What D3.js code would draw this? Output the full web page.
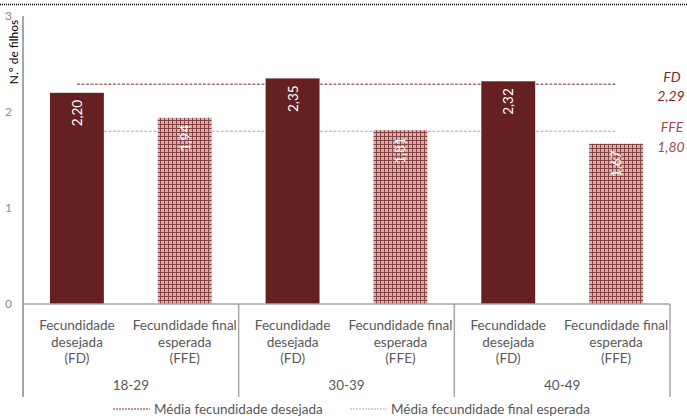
<!DOCTYPE html>
<html>
<head>
<meta charset="utf-8">
<script src="https://cdn.jsdelivr.net/npm/d3@7"></script>
<style>
  body { margin: 0; background: #fff; }
  svg { display: block; font-family: Lato, "Open Sans", sans-serif; }
</style>
</head>
<body>
<svg id="chart" width="687" height="416"></svg>
<script>
const groups = ['18-29', '30-39', '40-49'];
const subCats = ['FD', 'FFE'];
const subLabels = [['Fecundidade', 'desejada', '(FD)'], ['Fecundidade final', 'esperada', '(FFE)']];
const fdValues = [2.20, 2.35, 2.32];
const ffeValues = [1.94, 1.81, 1.67];
const avgFD = 2.29;
const avgFFE = 1.80;
const yTicks = [0, 1, 2, 3];

const svg = d3.select('#chart');
const plotLeft = 23, plotRight = 670, plotTop = 16, plotBottom = 304;

// pattern for FFE bars
const defs = svg.append('defs');
const pat = defs.append('pattern')
  .attr('id', 'hatch').attr('patternUnits', 'userSpaceOnUse')
  .attr('width', 4).attr('height', 4);
pat.append('rect').attr('width', 4).attr('height', 4).attr('fill', '#d2b0b0');
pat.append('rect').attr('x', 0).attr('y', 0).attr('width', 4).attr('height', 1).attr('fill', '#8a4444');
pat.append('rect').attr('x', 0).attr('y', 0).attr('width', 1).attr('height', 4).attr('fill', '#8a4444');

// top dotted rule
svg.append('line')
  .attr('x1', 0).attr('x2', 687).attr('y1', 4.5).attr('y2', 4.5)
  .attr('stroke', '#000').attr('stroke-width', 1.5).attr('stroke-dasharray', '1,1');

const x0 = d3.scaleBand().domain(groups).range([plotLeft, plotRight]);
const x1 = d3.scaleBand().domain(subCats).range([0, x0.bandwidth()]).paddingInner(0.5).paddingOuter(0.25);
const y = d3.scaleLinear().domain([0, 3]).range([plotBottom, plotTop]);

const rows = [];
groups.forEach((g, i) => {
  rows.push({ group: g, sub: 'FD', value: fdValues[i] });
  rows.push({ group: g, sub: 'FFE', value: ffeValues[i] });
});
const cx = d => x0(d.group) + x1(d.sub) + x1.bandwidth() / 2;

// y axis labels
svg.append('g').selectAll('text').data(yTicks).enter().append('text')
  .attr('x', 12).attr('y', d => y(d) + 4)
  .attr('text-anchor', 'end').attr('font-size', 12).attr('fill', '#8c8c8c')
  .text(d => d);

svg.append('text')
  .attr('transform', 'translate(18,52) rotate(-90)')
  .attr('text-anchor', 'middle').attr('font-size', 12).attr('fill', '#000')
  .text('N.º de filhos');

// average lines (behind bars)
const first = rows[0], last = rows[rows.length - 1];
svg.append('line')
  .attr('x1', cx(first)).attr('x2', cx(last)).attr('y1', y(avgFD)).attr('y2', y(avgFD))
  .attr('stroke', '#7a2c2c').attr('stroke-width', 1).attr('stroke-dasharray', '3,1.5');
svg.append('line')
  .attr('x1', cx(first)).attr('x2', cx(last)).attr('y1', y(avgFFE)).attr('y2', y(avgFFE))
  .attr('stroke', '#c4a0a0').attr('stroke-width', 1).attr('stroke-dasharray', '3,1.5');

// bars
svg.append('g').selectAll('rect').data(rows).enter().append('rect')
  .attr('x', d => x0(d.group) + x1(d.sub))
  .attr('y', d => y(d.value))
  .attr('width', x1.bandwidth())
  .attr('height', d => y(0) - y(d.value))
  .attr('fill', d => d.sub === 'FD' ? '#652121' : 'url(#hatch)');

// value labels
svg.append('g').selectAll('text').data(rows).enter().append('text')
  .attr('transform', d => 'translate(' + (cx(d) + 5) + ',' + (y(d.value) + 7) + ') rotate(-90)')
  .attr('text-anchor', 'end').attr('font-size', 13.5).attr('fill', '#fff')
  .text(d => d.value.toFixed(2).replace('.', ','));

// axis lines
const axisColor = '#a6a6a6';
svg.append('line').attr('x1', plotLeft).attr('x2', plotLeft).attr('y1', plotTop).attr('y2', 397)
  .attr('stroke', axisColor).attr('stroke-width', 2);
svg.append('line').attr('x1', plotLeft).attr('x2', plotRight).attr('y1', plotBottom).attr('y2', plotBottom)
  .attr('stroke', axisColor).attr('stroke-width', 1.5);
groups.forEach(g => {
  svg.append('line')
    .attr('x1', x0(g) + x0.bandwidth()).attr('x2', x0(g) + x0.bandwidth())
    .attr('y1', plotBottom).attr('y2', 397)
    .attr('stroke', axisColor).attr('stroke-width', 1.5);
});

// category labels
const catG = svg.append('g').attr('font-size', 13.5).attr('fill', '#595959').attr('text-anchor', 'middle');
rows.forEach(d => {
  const lines = subLabels[subCats.indexOf(d.sub)];
  lines.forEach((t, k) => {
    catG.append('text').attr('x', cx(d)).attr('y', 330 + k * 16.5).text(t);
  });
});
groups.forEach(g => {
  catG.append('text').attr('x', x0(g) + x0.bandwidth() / 2).attr('y', 390).text(g);
});

// right-side average labels
const rl = svg.append('g').attr('font-size', 14).attr('font-style', 'italic').attr('text-anchor', 'middle');
rl.append('text').attr('x', 672).attr('y', 82).attr('fill', '#7a2c2c').text('FD');
rl.append('text').attr('x', 671).attr('y', 101).attr('fill', '#7a2c2c').text(avgFD.toFixed(2).replace('.', ','));
rl.append('text').attr('x', 672).attr('y', 132).attr('fill', '#a8474c').text('FFE');
rl.append('text').attr('x', 671).attr('y', 152).attr('fill', '#a8474c').text(avgFFE.toFixed(2).replace('.', ','));

// legend
const legend = [
  { label: 'Média fecundidade desejada', color: '#7a2c2c', x: 113 },
  { label: 'Média fecundidade final esperada', color: '#c4a0a0', x: 350 }
];
const lg = svg.append('g');
legend.forEach(l => {
  lg.append('line').attr('x1', l.x).attr('x2', l.x + 37).attr('y1', 409).attr('y2', 409)
    .attr('stroke', l.color).attr('stroke-width', 1).attr('stroke-dasharray', '2,1');
  lg.append('text').attr('x', l.x + 41).attr('y', 414).attr('font-size', 13.5).attr('fill', '#595959').text(l.label);
});
</script>
</body>
</html>
